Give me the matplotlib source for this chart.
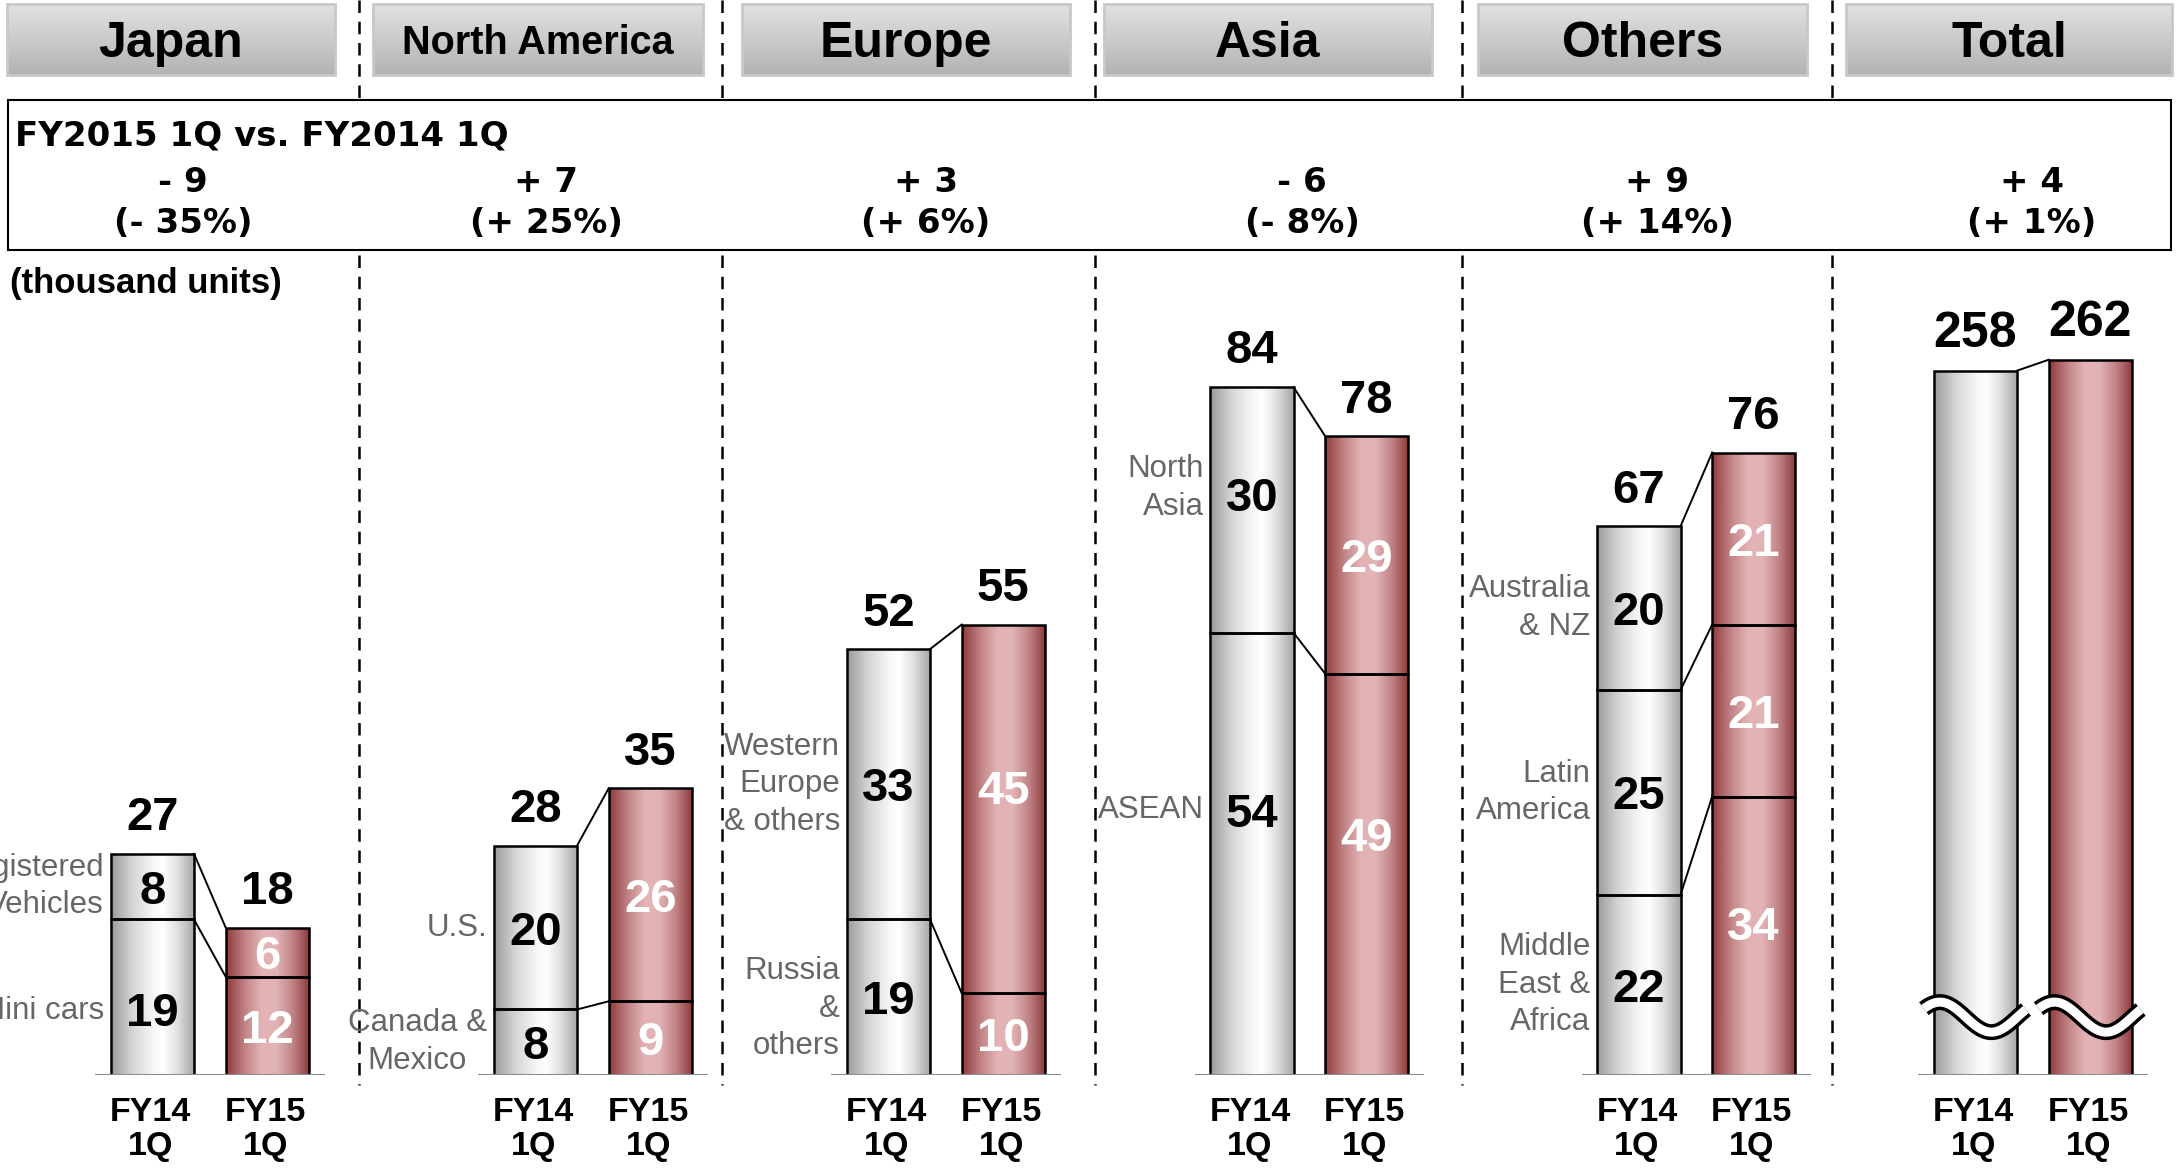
import numpy as np
import matplotlib.pyplot as plt
from matplotlib.colors import LinearSegmentedColormap
from matplotlib.patches import Rectangle

plt.rcParams['font.family'] = ['Liberation Sans', 'DejaVu Sans']

# ---- data (thousand units) ----
regions = ["Japan", "North America", "Europe", "Asia", "Others", "Total"]
periods = ["FY14\n1Q", "FY15\n1Q"]

japan_segments = ["Mini cars", "Registered\nVehicles"]
japan_fy14 = [19, 8]
japan_fy15 = [12, 6]

na_segments = ["Canada &\nMexico", "U.S."]
na_fy14 = [8, 20]
na_fy15 = [9, 26]

europe_segments = ["Russia\n&\nothers", "Western\nEurope\n& others"]
europe_fy14 = [19, 33]
europe_fy15 = [10, 45]

asia_segments = ["ASEAN", "North\nAsia"]
asia_fy14 = [54, 30]
asia_fy15 = [49, 29]

others_segments = ["Middle\nEast &\nAfrica", "Latin\nAmerica", "Australia\n& NZ"]
others_fy14 = [22, 25, 20]
others_fy15 = [34, 21, 21]

total_fy14 = [258]
total_fy15 = [262]

change_units = ["- 9", "+ 7", "+ 3", "- 6", "+ 9", "+ 4"]
change_pct = ["(- 35%)", "(+ 25%)", "(+ 6%)", "(- 8%)", "(+ 14%)", "(+ 1%)"]

panels = [
    (japan_segments, japan_fy14, japan_fy15),
    (na_segments, na_fy14, na_fy15),
    (europe_segments, europe_fy14, europe_fy15),
    (asia_segments, asia_fy14, asia_fy15),
    (others_segments, others_fy14, others_fy15),
    (None, total_fy14, total_fy15),
]

# ---- layout (pixels, origin top-left) ----
W, H, DPI = 2179, 1176, 100
header_boxes = [(7, 335), (373, 703), (742, 1070), (1104, 1432), (1478, 1807), (1846, 2172)]
separators = [359, 722, 1095, 1462, 1832]
change_x = [183, 546, 926, 1302, 1657, 2032]
panel_x = [152.5, 535.5, 888.5, 1252, 1639, 1975.5]   # centre of FY14 bar
step = 114.7          # px between the two bars
base_y = 1075         # baseline
px_per_unit = 8.19
bar_w = 0.724

# hand placement of some in-bar labels, as in the slide (value units)
value_nudge = {(0, 0, 0): -1.4, (2, 1, 1): 2.7, (3, 0, 0): 5.4, (3, 0, 1): 1.9,
               (3, 1, 0): 4.9, (4, 1, 0): 1.5}
name_nudge = {(0, 0): -1.7, (2, 0): -1.4, (3, 0): 5.4, (3, 1): 2.7}

gray_cmap = LinearSegmentedColormap.from_list(
    'cyl_gray', [(0, '#9a9a9a'), (0.25, '#d4d4d4'), (0.5, '#f6f6f6'),
                 (0.62, '#ffffff'), (0.8, '#dedede'), (1, '#a4a4a4')])
red_cmap = LinearSegmentedColormap.from_list(
    'cyl_red', [(0, '#8e3a3a'), (0.22, '#c08284'), (0.42, '#e2b2b4'),
                (0.6, '#e3b4b6'), (0.8, '#bf8385'), (1, '#8c3838')])
head_cmap = LinearSegmentedColormap.from_list('head', ['#e2e2e2', '#b3b3b3'])
label_gray = '#666666'

fig = plt.figure(figsize=(W / DPI, H / DPI), dpi=DPI)

# background layer: headers, dashed separators, comparison box
bg = fig.add_axes([0, 0, 1, 1])
bg.set_axis_off()

for (x0, x1), name in zip(header_boxes, regions):
    bg.imshow(np.linspace(0, 1, 64).reshape(-1, 1), cmap=head_cmap, aspect='auto',
              extent=(x0, x1, 75, 4), zorder=1)
    bg.add_patch(Rectangle((x0, 4), x1 - x0, 71, facecolor='none',
                           edgecolor='#c8c8c8', lw=2, zorder=2))
    small = name == "North America"
    bg.text((x0 + x1) / 2, 54 if small else 57, name, ha='center', va='baseline',
            fontsize=28.5 if small else 36, fontweight='bold', zorder=3)

for sx in separators:
    bg.plot([sx, sx], [0, 1085], color='black', lw=1.8, dashes=(5, 3.5), zorder=1)

bg.add_patch(Rectangle((8, 100), 2163, 150, facecolor='white', edgecolor='black',
                       lw=1.5, zorder=3))
bg.text(15, 145, "FY2015 1Q vs. FY2014 1Q", ha='left', va='baseline', fontsize=24.5,
        fontweight='bold', family='DejaVu Sans', zorder=4)
for cx, u, p in zip(change_x, change_units, change_pct):
    bg.text(cx, 192, u, ha='center', va='baseline', fontsize=24.5, fontweight='bold',
            family='DejaVu Sans', zorder=4)
    bg.text(cx, 233, p, ha='center', va='baseline', fontsize=24.5, fontweight='bold',
            family='DejaVu Sans', zorder=4)
bg.text(10, 293, "(thousand units)", ha='left', va='baseline', fontsize=25,
        fontweight='bold', zorder=4)

bg.set_xlim(0, W)
bg.set_ylim(H, 0)

grad = np.linspace(0, 1, 256).reshape(1, -1)


def draw_column(ax, panel, col, values, cmap, value_color, show_values=True):
    x = col
    bottoms = np.concatenate([[0], np.cumsum(values)[:-1]])
    bars = ax.bar([x] * len(values), values, bottom=bottoms, width=bar_w,
                  facecolor='none', edgecolor='black', lw=1.8, zorder=3)
    for k, (rect, v) in enumerate(zip(bars, values)):
        im = ax.imshow(grad, cmap=cmap, aspect='auto', interpolation='bicubic',
                       extent=(rect.get_x(), rect.get_x() + rect.get_width(),
                               rect.get_y(), rect.get_y() + rect.get_height()),
                       zorder=2)
        im.set_clip_path(rect)
        if show_values:
            y = rect.get_y() + v / 2 + value_nudge.get((panel, col, k), 0)
            ax.text(x, y, str(v), ha='center', va='center_baseline',
                    fontsize=34, fontweight='bold', color=value_color, zorder=4)
    return bars


for i, (segments, fy14, fy15) in enumerate(panels):
    is_total = segments is None
    ymax = 300 if is_total else 100
    left = (panel_x[i] - 0.5 * step) / W
    ax = fig.add_axes([left, (H - base_y) / H, 2 * step / W, 100 * px_per_unit / H])
    ax.set_facecolor('none')
    ax.set_axis_off()

    draw_column(ax, i, 0, fy14, gray_cmap, 'black', show_values=not is_total)
    draw_column(ax, i, 1, fy15, red_cmap, 'white', show_values=not is_total)

    # connector lines between matching segment boundaries
    for a, b in zip(np.cumsum(fy14), np.cumsum(fy15)):
        ax.plot([bar_w / 2, 1 - bar_w / 2], [a, b], color='black', lw=1.4, zorder=3)

    # totals on top, period labels below
    for x, vals in ((0, fy14), (1, fy15)):
        ax.annotate(str(sum(vals)), xy=(x, sum(vals)), xytext=(0, 17),
                    textcoords='offset points', ha='center', va='baseline',
                    fontsize=36 if is_total else 34, fontweight='bold', zorder=5)
        ax.annotate(periods[x], xy=(x, 0), xytext=(-1.5, -16), textcoords='offset points',
                    ha='center', va='top', fontsize=24.5, fontweight='bold',
                    linespacing=1.1, annotation_clip=False)

    # segment names left of the FY14 bar
    if not is_total:
        bottoms = np.concatenate([[0], np.cumsum(fy14)[:-1]])
        for k, (name, b, v) in enumerate(zip(segments, bottoms, fy14)):
            ax.text(-bar_w / 2 - 0.06, b + v / 2 + name_nudge.get((i, k), 0), name,
                    ha='right', va='center',
                    multialignment='center' if name.startswith("Canada") else 'right',
                    fontsize=22.5, color=label_gray, linespacing=1.33, zorder=4)

    # broken-axis wave for the total column
    if is_total:
        t = np.linspace(-0.45, 0.44, 120)
        for x in (0, 1):
            yy = 21.2 + 5.5 * np.sin(2 * np.pi * (t + 0.45) / 0.9 + 0.6)
            ax.plot(x + t, yy, color='black', lw=11.5, solid_capstyle='butt', zorder=6)
            ax.plot(x + t, yy, color='white', lw=6.5, solid_capstyle='butt', zorder=7)

    ax.axhline(0, color='#8c8c8c', lw=2.2, zorder=5)
    ax.set_xlim(-0.5, 1.5)
    ax.set_ylim(0, ymax)

fig.savefig('out.png', dpi=DPI)
